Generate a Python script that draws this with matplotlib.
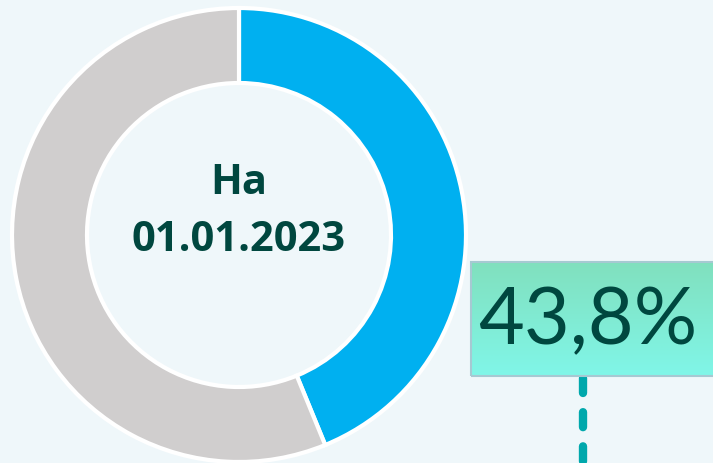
import matplotlib.pyplot as plt
import numpy as np

# share of the blue segment vs the rest
shares = [43.8, 56.2]
share_label = "43,8%"
center_lines = ["На", "01.01.2023"]
colors = ["#00B0F0", "#D0CECE"]

W, H = 713, 464
fig = plt.figure(figsize=(W / 100, H / 100), dpi=100)
fig.patch.set_facecolor("#EFF7FA")
ax = fig.add_axes([0, 0, 1, 1])

# donut
cx, cy, r = 239, H - 236, 227
ax.pie(shares, colors=colors, startangle=90, counterclock=False,
       center=(cx, cy), radius=r, frame=True,
       wedgeprops=dict(width=75, edgecolor="white", linewidth=3))

txt_color = "#00473F"
ax.text(cx, H - 184, center_lines[0], ha="center", va="center",
        fontsize=30, fontweight="bold", color=txt_color, family="Open Sans")
ax.text(cx, H - 241, center_lines[1], ha="center", va="center",
        fontsize=30, fontweight="bold", color=txt_color, family="Open Sans")

# label box with vertical gradient
bx0, bx1 = 471, 718
by0, by1 = H - 377, H - 263
grad = np.linspace(0, 1, 64)[:, None]
top = np.array([128, 224, 190]) / 255
bot = np.array([128, 246, 232]) / 255
img = bot + (top - bot) * grad
img = np.repeat(img[:, None, :], 2, axis=1)
ax.imshow(img, extent=(bx0, bx1, by0, by1), origin="lower",
          aspect="auto", zorder=3)
ax.add_patch(plt.Rectangle((bx0, by0), bx1 - bx0, by1 - by0, fill=False,
                           edgecolor="#A6C9D2", linewidth=1.5, zorder=4))
ax.text(588, H - 322, share_label, ha="center", va="center",
        fontsize=57, color=txt_color, family="Lato", zorder=5)

# dashed leader line
ax.plot([583, 583], [H - 379, -20], color="#00A8AC", linewidth=6,
        linestyle=(0, (1.8, 2.3)), dash_capstyle="round", zorder=2)

ax.set_xlim(0, W)
ax.set_ylim(0, H)
ax.set_aspect("equal")
ax.axis("off")
fig.savefig("out.png", dpi=100, facecolor=fig.get_facecolor())
